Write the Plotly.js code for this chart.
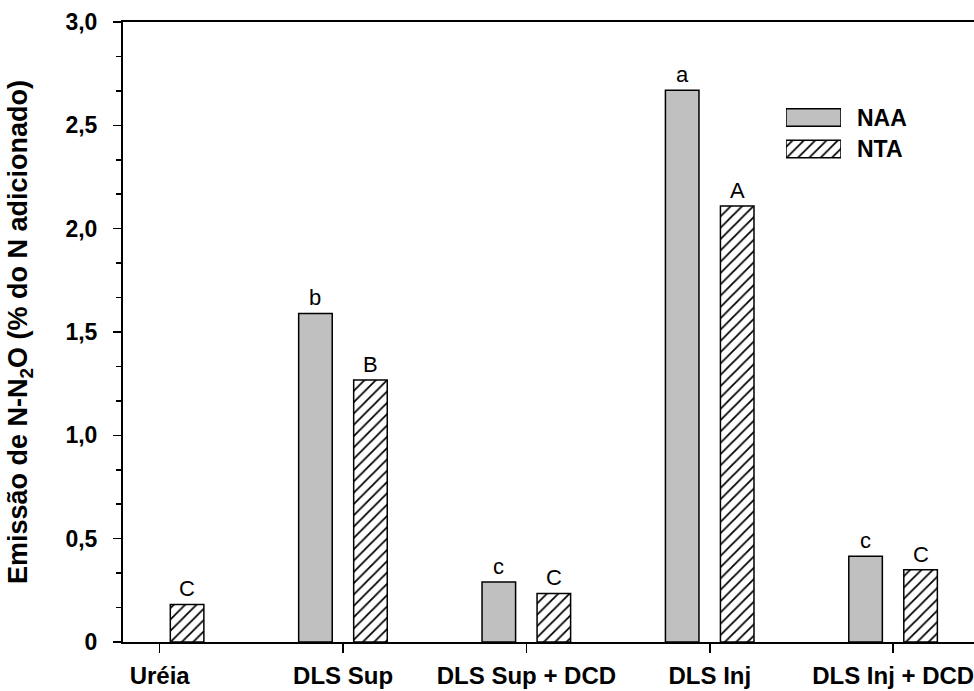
<!DOCTYPE html>
<html>
<head>
<meta charset="utf-8">
<script src="https://cdn.plot.ly/plotly-3.0.1.min.js"></script>
<style>html,body{margin:0;padding:0;background:#fff;}#chart{width:974px;height:691px;}</style>
</head>
<body>
<div id="chart"></div>
<script>
// ---- data ----
const categories = ['Uréia', 'DLS Sup', 'DLS Sup + DCD', 'DLS Inj', 'DLS Inj + DCD'];
const naaValues = [null, 1.59, 0.29, 2.67, 0.415];
const ntaValues = [0.182, 1.268, 0.235, 2.11, 0.35];
const naaLetters = ['', 'b', 'c', 'a', 'c'];
const ntaLetters = ['C', 'B', 'C', 'A', 'C'];
const yTickVals = [0, 0.5, 1.0, 1.5, 2.0, 2.5, 3.0];
const yTickText = ['0', '0,5', '1,0', '1,5', '2,0', '2,5', '3,0'];
const seriesNames = ['NAA', 'NTA'];

// ---- styling ----
const FONT = 'Liberation Sans, Arial, Helvetica, sans-serif';
const xIdx = categories.map((c, i) => i);
const barW = 0.183;
const offNAA = -0.242, offNTA = 0.058;
const grey = '#c0c0c0';
const hatch = {shape: '/', size: 8, solidity: 0.22, fgcolor: '#000', bgcolor: '#fff', fillmode: 'replace'};

const traces = [
  {type: 'bar', name: seriesNames[0], x: xIdx, y: naaValues, width: barW, offset: offNAA,
   marker: {color: grey, line: {color: '#000', width: 1.5}}, showlegend: false, hoverinfo: 'y'},
  {type: 'bar', name: seriesNames[1], x: xIdx, y: ntaValues, width: barW, offset: offNTA,
   marker: {color: '#fff', pattern: hatch, line: {color: '#000', width: 1.5}}, showlegend: false, hoverinfo: 'y'},
  // legend swatches drawn as bars on a small auxiliary axis pair
  {type: 'bar', orientation: 'h', x: [1], y: [1], width: 0.556, xaxis: 'x2', yaxis: 'y2',
   marker: {color: grey, line: {color: '#000', width: 1.5}}, showlegend: false, hoverinfo: 'skip'},
  {type: 'bar', orientation: 'h', x: [1], y: [0], width: 0.556, xaxis: 'x2', yaxis: 'y2',
   marker: {color: '#fff', pattern: hatch, line: {color: '#000', width: 1.5}}, showlegend: false, hoverinfo: 'skip'}
];

// plot area in pixels: left 123, right 974, top 22, bottom 642
const L = 123, R = 974, T = 22, B = 642;
const px2x = p => (p - L) / (R - L);
const px2y = p => (B - p) / (B - T);

const annotations = [];
xIdx.forEach(i => {
  if (naaValues[i] != null && naaLetters[i]) {
    annotations.push({x: i + offNAA + barW / 2, y: naaValues[i], xref: 'x', yref: 'y', text: naaLetters[i],
      showarrow: false, yanchor: 'bottom', yshift: 1, font: {family: FONT, size: 22, color: '#000'}});
  }
  if (ntaValues[i] != null && ntaLetters[i]) {
    annotations.push({x: i + offNTA + barW / 2, y: ntaValues[i], xref: 'x', yref: 'y', text: ntaLetters[i],
      showarrow: false, yanchor: 'bottom', yshift: 1, font: {family: FONT, size: 22, color: '#000'}});
  }
});
// legend labels
annotations.push({x: px2x(855), y: px2y(117.5), xref: 'paper', yref: 'paper', text: '<b>' + seriesNames[0] + '</b>',
  showarrow: false, xanchor: 'left', yanchor: 'middle', font: {family: FONT, size: 23, color: '#000'}});
annotations.push({x: px2x(855), y: px2y(149), xref: 'paper', yref: 'paper', text: '<b>' + seriesNames[1] + '</b>',
  showarrow: false, xanchor: 'left', yanchor: 'middle', font: {family: FONT, size: 23, color: '#000'}});

const layout = {
  width: 974, height: 691,
  margin: {l: L, r: 974 - R, t: T, b: 691 - B, pad: 0},
  paper_bgcolor: '#fff', plot_bgcolor: '#fff',
  font: {family: FONT, color: '#000'},
  showlegend: false,
  bargap: 0,
  xaxis: {
    range: [-0.2, (R - 160) / 183.3], fixedrange: true,
    tickmode: 'array', tickvals: xIdx, ticktext: categories.map(c => '<b>' + c + '</b>'),
    ticks: 'outside', ticklen: 9, tickwidth: 1.5, tickcolor: '#000',
    tickfont: {family: FONT, size: 24, color: '#000'},
    ticklabelstandoff: 2,
    ticklabeloverflow: 'allow',
    showline: true, linecolor: '#000', linewidth: 2, mirror: true,
    showgrid: false, zeroline: false
  },
  yaxis: {
    range: [0, 3], fixedrange: true,
    tickmode: 'array', tickvals: yTickVals, ticktext: yTickText.map(t => '<b>' + t + '</b>'),
    ticks: 'outside', ticklen: 8, tickwidth: 1.5, tickcolor: '#000',
    minor: {dtick: 0.5 / 3, tick0: 0, ticks: 'outside', ticklen: 5, tickwidth: 1.5, tickcolor: '#000', showgrid: false},
    tickfont: {family: FONT, size: 23, color: '#000'},
    ticklabelstandoff: 11,
    showline: true, linecolor: '#000', linewidth: 2, mirror: false,
    showgrid: false, zeroline: false,
    title: {text: '<b>Emissão de N-N<sub>2</sub>O (% do N adicionado)</b>', font: {family: FONT, size: 27, color: '#000'}, standoff: 30}
  },
  xaxis2: {domain: [px2x(786), px2x(841)], range: [0, 1], anchor: 'y2', visible: false, fixedrange: true},
  yaxis2: {domain: [px2y(164.75), px2y(101.75)], range: [-0.5, 1.5], anchor: 'x2', visible: false, fixedrange: true},
  annotations: annotations
};

Plotly.newPlot('chart', traces, layout, {displayModeBar: false, staticPlot: true});
</script>
</body>
</html>
